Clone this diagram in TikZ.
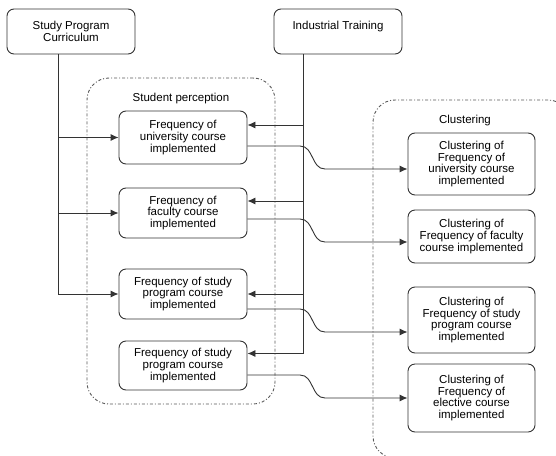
\documentclass[tikz,border=0pt]{standalone}
\usepackage{fontspec}
\setmainfont{Liberation Sans}
\usetikzlibrary{positioning}
\usetikzlibrary{arrows.meta}
\usetikzlibrary{calc}

\begin{document}
\begin{tikzpicture}[x=1pt,y=-1pt,
    font=\fontsize{11.5}{11.8}\selectfont,
    box/.style={draw=black!80, rounded corners=7pt, line width=0.9pt, align=center, inner sep=0pt, minimum width=128},
    group/.style={draw=black!65, rounded corners=22pt, line width=0.9pt, dash pattern=on 3pt off 2pt on 1pt off 2pt},
    link/.style={draw=black!80, line width=0.9pt, -{Latex[length=8pt,width=7pt]}}]

    \useasboundingbox (0,0) rectangle (556,455);

    % Define the groups
    \node[group, minimum width=188, minimum height=326] (perception) at (181,241) {};
    \node[group, minimum width=197, minimum height=358] (clustering) at (471.5,279) {};
    \node (perceptionlbl) at (181,99) {Student perception};
    \node (clusteringlbl) at (465,121) {Clustering};

    % Define the boxes
    \node[box, minimum height=45] (curric) at (71,31.5) {Study Program\\Curriculum};
    \node[box, minimum height=45] (training) at (338,31.5) {Industrial Training\\\mbox{}};

    \node[box, minimum height=53] (freqU) at (183,137.5) {Frequency of\\university course\\implemented};
    \node[box, minimum height=50] (freqF) at (183,213) {Frequency of\\faculty course\\implemented};
    \node[box, minimum height=50] (freqS) at (183,294) {Frequency of study\\program course\\implemented};
    \node[box, minimum height=49] (freqS2) at (183,365.5) {Frequency of study\\program course\\implemented};

    \node[box, minimum width=127, minimum height=62] (clusU) at (471.5,164) {Clustering of\\Frequency of\\university course\\implemented};
    \node[box, minimum width=127, minimum height=53] (clusF) at (471.5,236.5) {Clustering of\\Frequency of faculty\\course implemented};
    \node[box, minimum width=127, minimum height=66] (clusS) at (471.5,320) {Clustering of\\Frequency of study\\program course\\implemented};
    \node[box, minimum width=127, minimum height=68] (clusE) at (471.5,398) {Clustering of\\Frequency of\\elective course\\implemented};

    % Curriculum feeds
    \coordinate (currdrop) at ([xshift=-13pt]curric.south);
    \draw[link] (currdrop) |- (freqS.west);
    \foreach \freq in {freqU, freqF}
    \draw[link] (currdrop |- \freq.west) -- (\freq.west);

    % Industrial training feeds
    \coordinate (traindrop) at ([xshift=-35pt]training.south);
    \draw[link] (traindrop) |- ([yshift=12pt]freqS2.east);
    \foreach \freq/\dy in {freqU/12.5, freqF/12, freqS/0} {
        \coordinate (in) at ([yshift=\dy pt]\freq.east);
        \draw[link] (traindrop |- in) -- (in);
    }

    % Frequencies to clusters
    \coordinate (bendl) at (300,0);
    \coordinate (bendr) at (325,0);
    \foreach \src/\tgt/\sy/\ty in {freqU/clusU/-8.5/-5, freqF/clusF/-6/-5.5, freqS/clusS/-15/-12, freqS2/clusE/-9.5/0} {
        \coordinate (out) at ([yshift=\sy pt]\src.east);
        \coordinate (tgt) at ([yshift=\ty pt]\tgt.west);
        \draw[link] (out) -- (out -| bendl)
            .. controls ($(out -| bendl)+(14,0)$) and ($(tgt -| bendr)+(-14,0)$) .. (tgt -| bendr) -- (tgt);
    }
\end{tikzpicture}
\end{document}
